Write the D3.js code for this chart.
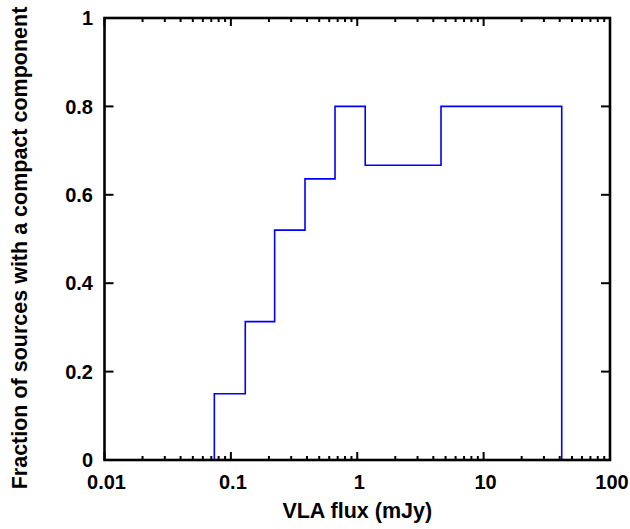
<!DOCTYPE html>
<html>
<head>
<meta charset="utf-8">
<script src="https://cdn.jsdelivr.net/npm/d3@7"></script>
<style>
body { margin: 0; background: #fff; }
text { font-family: "Liberation Sans", Arial, Helvetica, sans-serif; font-weight: bold; fill: #000; }
</style>
</head>
<body>
<svg id="chart" width="630" height="529"></svg>
<script>
// bin edges (mJy) and fraction in each bin
var binEdges = [0.074, 0.13, 0.222, 0.386, 0.667, 1.156, 4.6, 41.5];
var fractions = [0.15, 0.313, 0.52, 0.636, 0.8, 0.667, 0.8];
var xTicks = [0.01, 0.1, 1, 10, 100];
var xTickLabels = ["0.01", "0.1", "1", "10", "100"];
var yTicks = [0, 0.2, 0.4, 0.6, 0.8, 1];
var yTickLabels = ["0", "0.2", "0.4", "0.6", "0.8", "1"];

var width = 630, height = 529;
var margin = {left: 104.5, right: 20, top: 18, bottom: 69};

var svg = d3.select("#chart");

var x = d3.scaleLog()
    .domain([0.01, 100])
    .range([margin.left, width - margin.right]);
var y = d3.scaleLinear()
    .domain([0, 1])
    .range([height - margin.bottom, margin.top]);

var x0 = x.range()[0], x1 = x.range()[1];
var y0 = y.range()[0], y1 = y.range()[1];

// minor ticks 2..9 in each decade
var minorTicks = [];
for (var d = 0.01; d < 100; d *= 10) {
    for (var k = 2; k <= 9; k++) minorTicks.push(d * k);
}

var ticks = svg.append("g")
    .attr("stroke", "#000")
    .attr("stroke-width", 2);

minorTicks.forEach(function(v) {
    ticks.append("line").attr("x1", x(v)).attr("x2", x(v)).attr("y1", y0).attr("y2", y0 - 4);
    ticks.append("line").attr("x1", x(v)).attr("x2", x(v)).attr("y1", y1).attr("y2", y1 + 4);
});
xTicks.forEach(function(v) {
    ticks.append("line").attr("x1", x(v)).attr("x2", x(v)).attr("y1", y0).attr("y2", y0 - 8);
    ticks.append("line").attr("x1", x(v)).attr("x2", x(v)).attr("y1", y1).attr("y2", y1 + 8);
});
yTicks.forEach(function(v) {
    ticks.append("line").attr("x1", x0).attr("x2", x0 + 9).attr("y1", y(v)).attr("y2", y(v));
    ticks.append("line").attr("x1", x1).attr("x2", x1 - 9).attr("y1", y(v)).attr("y2", y(v));
});

// step histogram outline
var pts = [[binEdges[0], 0]];
fractions.forEach(function(f, i) {
    pts.push([binEdges[i], f]);
    pts.push([binEdges[i + 1], f]);
});
pts.push([binEdges[binEdges.length - 1], 0]);

svg.append("path")
    .datum(pts)
    .attr("fill", "none")
    .attr("stroke", "#0000ff")
    .attr("stroke-width", 1.6)
    .attr("d", d3.line().x(function(p) { return x(p[0]); }).y(function(p) { return y(p[1]); }));

// frame
svg.append("rect")
    .attr("x", x0).attr("y", y1)
    .attr("width", x1 - x0).attr("height", y0 - y1)
    .attr("fill", "none")
    .attr("stroke", "#000")
    .attr("stroke-width", 2.6);

// tick labels
svg.append("g").selectAll("text")
    .data(xTicks)
    .enter().append("text")
    .attr("x", function(v) { return x(v) + 2; })
    .attr("y", 489)
    .attr("text-anchor", "middle")
    .style("font-size", "20px")
    .text(function(v, i) { return xTickLabels[i]; });

svg.append("g").selectAll("text")
    .data(yTicks)
    .enter().append("text")
    .attr("x", 93)
    .attr("y", function(v) { return y(v); })
    .attr("dy", "0.36em")
    .attr("text-anchor", "end")
    .style("font-size", "20px")
    .text(function(v, i) { return yTickLabels[i]; });

// axis titles
svg.append("text")
    .attr("x", (x0 + x1) / 2)
    .attr("y", 518)
    .attr("text-anchor", "middle")
    .style("font-size", "21.5px")
    .text("VLA flux (mJy)");

svg.append("text")
    .attr("transform", "translate(27," + 248 + ") rotate(-90)")
    .attr("text-anchor", "middle")
    .style("font-size", "21.5px")
    .text("Fraction of sources with a compact component");
</script>
</body>
</html>
